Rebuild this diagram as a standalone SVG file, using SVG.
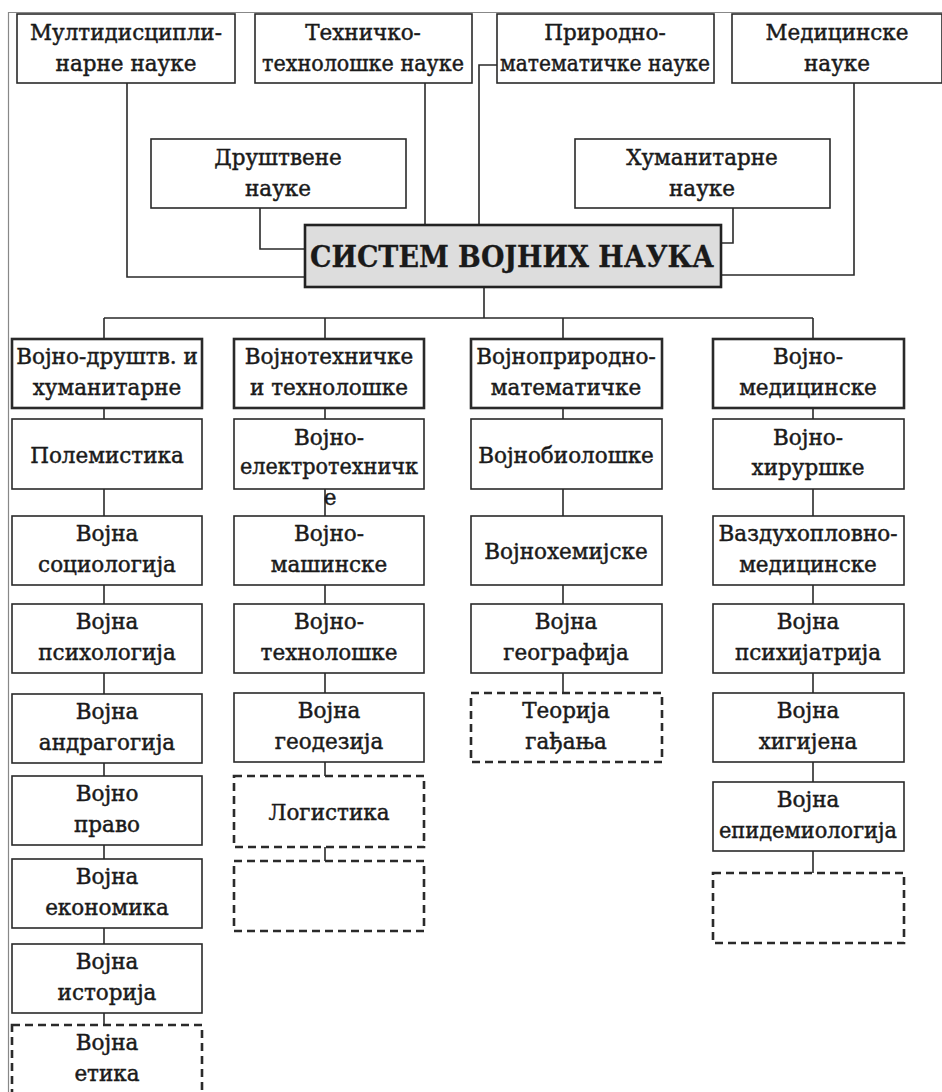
<svg xmlns="http://www.w3.org/2000/svg" width="942" height="1092" viewBox="0 0 942 1092">
<style>
.b{fill:#fff;stroke:#2a2a2a;stroke-width:1.6}
.h{fill:#fff;stroke:#2a2a2a;stroke-width:2.6}
.d{fill:#fff;stroke:#2a2a2a;stroke-width:2.6;stroke-dasharray:8 5}
.c{fill:#ddd;stroke:#222;stroke-width:2.6}
.l{fill:none;stroke:#2a2a2a;stroke-width:1.6}
text{font-family:"DejaVu Serif","Liberation Serif",serif;font-size:21.5px;fill:#1a1a1a;stroke:#1a1a1a;stroke-width:0.45;text-anchor:middle}
.t{font-size:29px;font-weight:bold;stroke-width:0.3}
</style>
<rect width="942" height="1092" fill="#fff"/>
<path d="M8.5 1092V12.5H942" fill="none" stroke="#888" stroke-width="1.2"/>
<g id="connectors">
<path class="l" d="M127 83V277H305"/>
<path class="l" d="M425 83V225"/>
<path class="l" d="M497 65H479V225"/>
<path class="l" d="M854 83V275H721"/>
<path class="l" d="M260 208V249H305"/>
<path class="l" d="M733 208V243H721"/>
<path class="l" d="M484 287V318M104 318H813M104 318V339M325 318V339M563 318V339M813 318V339"/>
<path class="l" d="M104 408V1025"/>
<path class="l" d="M325 408V776M325 847V861"/>
<path class="l" d="M563 408V693"/>
<path class="l" d="M813 408V873"/>
</g>
<g id="n-multi"><rect class="b" x="17" y="14" width="218" height="69"/><text x="126" y="40">Мултидисципли-</text><text x="126" y="71">нарне науке</text></g>
<g id="n-tech"><rect class="b" x="255" y="14" width="217" height="69"/><text x="363" y="40">Техничко-</text><text x="363" y="71" textLength="202" lengthAdjust="spacingAndGlyphs">технолошке науке</text></g>
<g id="n-prir"><rect class="b" x="497" y="14" width="217" height="69"/><text x="605" y="40">Природно-</text><text x="605" y="71" textLength="210" lengthAdjust="spacingAndGlyphs">математичке науке</text></g>
<g id="n-med"><rect class="b" x="732" y="14" width="210" height="69"/><text x="837" y="40">Медицинске</text><text x="837" y="71">науке</text></g>
<g id="n-drus"><rect class="b" x="151" y="139" width="255" height="69"/><text x="278" y="165">Друштвене</text><text x="278" y="196">науке</text></g>
<g id="n-hum"><rect class="b" x="575" y="139" width="255" height="69"/><text x="702" y="165">Хуманитарне</text><text x="702" y="196">науке</text></g>
<g id="n-center"><rect class="c" x="305" y="225" width="416" height="62"/><text class="t" x="512" y="267" textLength="404" lengthAdjust="spacingAndGlyphs">СИСТЕМ ВОЈНИХ НАУКА</text></g>

<g id="n-c1h"><rect class="h" x="12" y="339" width="190" height="69"/><text x="107" y="364">Војно-друштв. и</text><text x="107" y="395">хуманитарне</text></g>
<g id="n-c1a"><rect class="b" x="12" y="419" width="190" height="70"/><text x="107" y="463">Полемистика</text></g>
<g id="n-c1b"><rect class="b" x="12" y="516" width="190" height="69"/><text x="107" y="541">Војна</text><text x="107" y="572">социологија</text></g>
<g id="n-c1c"><rect class="b" x="12" y="604" width="190" height="69"/><text x="107" y="629">Војна</text><text x="107" y="660">психологија</text></g>
<g id="n-c1d"><rect class="b" x="12" y="694" width="190" height="69"/><text x="107" y="719">Војна</text><text x="107" y="750">андрагогија</text></g>
<g id="n-c1e"><rect class="b" x="12" y="776" width="190" height="69"/><text x="107" y="801">Војно</text><text x="107" y="832">право</text></g>
<g id="n-c1f"><rect class="b" x="12" y="859" width="190" height="69"/><text x="107" y="884">Војна</text><text x="107" y="915">економика</text></g>
<g id="n-c1g"><rect class="b" x="12" y="944" width="190" height="69"/><text x="107" y="969">Војна</text><text x="107" y="1000">историја</text></g>
<g id="n-c1h2"><rect class="d" x="12" y="1025" width="190" height="80"/><text x="107" y="1050">Војна</text><text x="107" y="1081">етика</text></g>

<g id="n-c2h"><rect class="h" x="234" y="339" width="190" height="69"/><text x="329" y="364">Војнотехничке</text><text x="329" y="395">и технолошке</text></g>
<g id="n-c2a"><rect class="b" x="234" y="419" width="190" height="70"/><text x="329" y="445">Војно-</text><text x="329" y="474" textLength="178" lengthAdjust="spacingAndGlyphs">електротехничк</text><text x="330" y="505">е</text></g>
<g id="n-c2b"><rect class="b" x="234" y="516" width="190" height="69"/><text x="329" y="541">Војно-</text><text x="329" y="572">машинске</text></g>
<g id="n-c2c"><rect class="b" x="234" y="604" width="190" height="69"/><text x="329" y="629">Војно-</text><text x="329" y="660">технолошке</text></g>
<g id="n-c2d"><rect class="b" x="234" y="693" width="190" height="69"/><text x="329" y="718">Војна</text><text x="329" y="749">геодезија</text></g>
<g id="n-c2e"><rect class="d" x="234" y="776" width="190" height="71"/><text x="329" y="820">Логистика</text></g>
<g id="n-c2f"><rect class="d" x="234" y="861" width="190" height="70"/></g>

<g id="n-c3h"><rect class="h" x="471" y="339" width="191" height="69"/><text x="566" y="364">Војноприродно-</text><text x="566" y="395">математичке</text></g>
<g id="n-c3a"><rect class="b" x="471" y="419" width="191" height="70"/><text x="566" y="463">Војнобиолошке</text></g>
<g id="n-c3b"><rect class="b" x="471" y="516" width="191" height="69"/><text x="566" y="559">Војнохемијске</text></g>
<g id="n-c3c"><rect class="b" x="471" y="604" width="191" height="69"/><text x="566" y="629">Војна</text><text x="566" y="660">географија</text></g>
<g id="n-c3d"><rect class="d" x="471" y="693" width="191" height="69"/><text x="566" y="718">Теорија</text><text x="566" y="749">гађања</text></g>

<g id="n-c4h"><rect class="h" x="713" y="339" width="191" height="69"/><text x="808" y="364">Војно-</text><text x="808" y="395">медицинске</text></g>
<g id="n-c4a"><rect class="b" x="713" y="419" width="191" height="70"/><text x="808" y="445">Војно-</text><text x="808" y="475">хируршке</text></g>
<g id="n-c4b"><rect class="b" x="713" y="516" width="191" height="69"/><text x="808" y="541">Ваздухопловно-</text><text x="808" y="572">медицинске</text></g>
<g id="n-c4c"><rect class="b" x="713" y="604" width="191" height="69"/><text x="808" y="629">Војна</text><text x="808" y="660">психијатрија</text></g>
<g id="n-c4d"><rect class="b" x="713" y="693" width="191" height="69"/><text x="808" y="718">Војна</text><text x="808" y="749">хигијена</text></g>
<g id="n-c4e"><rect class="b" x="713" y="782" width="191" height="69"/><text x="808" y="807">Војна</text><text x="808" y="838" textLength="178" lengthAdjust="spacingAndGlyphs">епидемиологија</text></g>
<g id="n-c4f"><rect class="d" x="713" y="873" width="191" height="70"/></g>
</svg>
